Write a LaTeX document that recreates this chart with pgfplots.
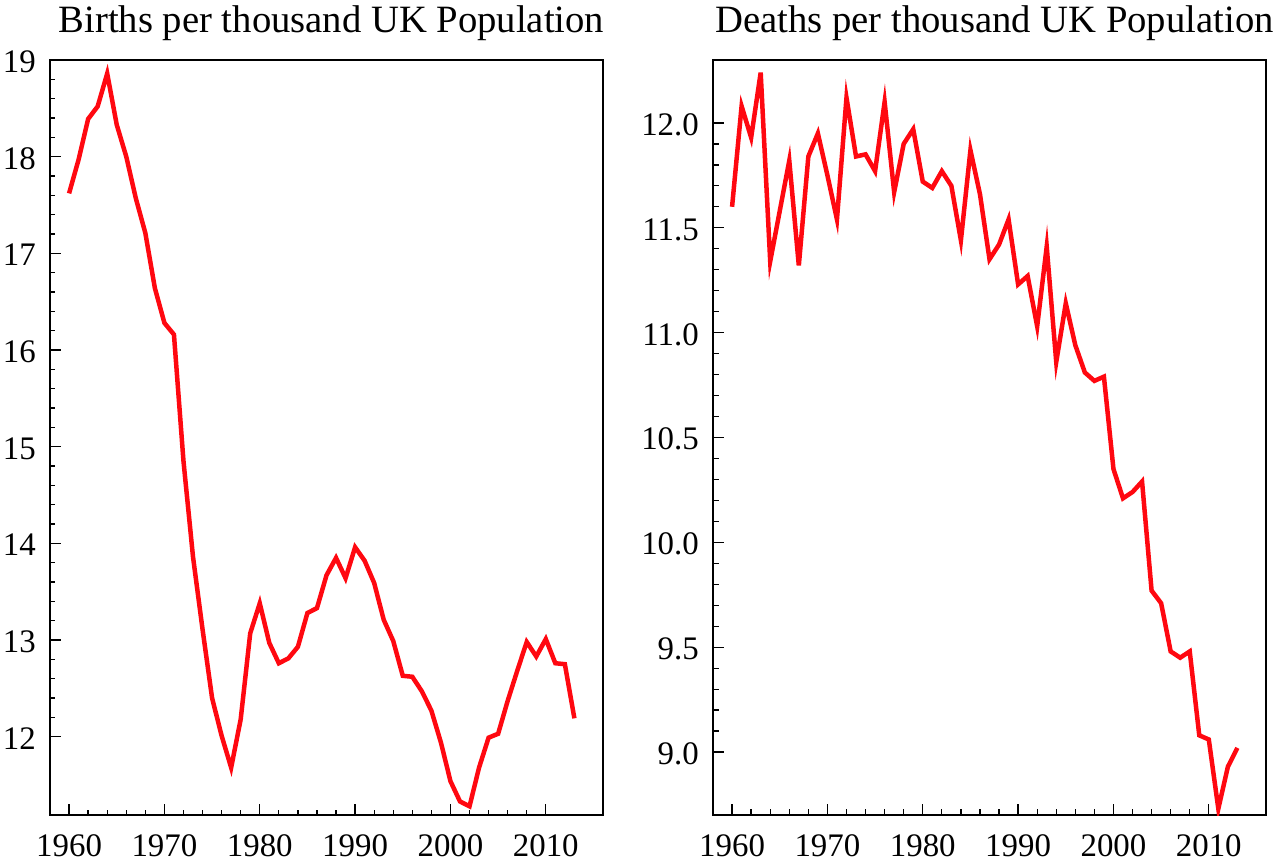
\documentclass[border=0pt]{standalone}
\usepackage{fontspec}
\setmainfont{Liberation Serif}
\usepackage{pgfplots}
\pgfplotsset{compat=1.18}
\definecolor{lred}{RGB}{255,8,16}
\pgfplotsset{mystyle/.style={
  scale only axis, width=553bp, height=755bp,
  anchor=south west,
  xmin=1958, xmax=2016,
  xtick={1960,1970,...,2010}, minor x tick num=4,
  tick align=inside, xtick pos=bottom, ytick pos=left,
  major tick length=11bp, minor tick length=5.5bp,
  axis line style={line width=1.8bp},
  every tick/.style={black, line width=1.3bp},
  tick label style={font=\fontsize{33}{39}\selectfont, inner sep=0pt},
  xticklabel style={anchor=base, yshift=-41bp},
  yticklabel style={anchor=base east, xshift=-14bp, yshift=-12.5bp},
  /pgf/number format/assume math mode=true,
  /pgf/number format/1000 sep={},
  title style={font=\fontsize{38.8}{46}\selectfont, at={(0.5,1)}, anchor=base, yshift=22bp, xshift=5bp, inner sep=0pt},
}}
\begin{document}
\begin{tikzpicture}
\useasboundingbox (0,0) rectangle (1279bp,867bp);
\begin{axis}[mystyle, at={(50bp,52bp)},
  ymin=11.19, ymax=19, ytick={12,13,...,19}, minor y tick num=4,
  title={Births per thousand UK Population}]
\addplot[lred, line width=4.5bp, no marks] coordinates {
(1960,17.62) (1961,17.97) (1962,18.39) (1963,18.52) (1964,18.86) (1965,18.33)
(1966,18.00) (1967,17.57) (1968,17.21) (1969,16.64) (1970,16.28) (1971,16.16)
(1972,14.85) (1973,13.86) (1974,13.11) (1975,12.40) (1976,12.01) (1977,11.68)
(1978,12.18) (1979,13.07) (1980,13.38) (1981,12.97) (1982,12.76) (1983,12.81)
(1984,12.93) (1985,13.28) (1986,13.33) (1987,13.67) (1988,13.85) (1989,13.64)
(1990,13.96) (1991,13.82) (1992,13.59) (1993,13.21) (1994,12.99) (1995,12.63)
(1996,12.62) (1997,12.47) (1998,12.27) (1999,11.94) (2000,11.54) (2001,11.33)
(2002,11.28) (2003,11.68) (2004,11.99) (2005,12.03) (2006,12.37) (2007,12.68)
(2008,12.98) (2009,12.83) (2010,13.01) (2011,12.76) (2012,12.75) (2013,12.19)
};
\end{axis}
\begin{axis}[mystyle, at={(713bp,52bp)},
  ymin=8.70, ymax=12.30, ytick={9,9.5,...,12}, minor y tick num=4,
  yticklabel style={/pgf/number format/.cd, fixed, fixed zerofill, precision=1},
  title={Deaths per thousand UK Population}]
\addplot[lred, line width=4.5bp, no marks] coordinates {
(1960,11.60) (1961,12.08) (1962,11.93) (1963,12.24) (1964,11.34) (1965,11.58)
(1966,11.82) (1967,11.32) (1968,11.84) (1969,11.95) (1970,11.75) (1971,11.54)
(1972,12.12) (1973,11.84) (1974,11.85) (1975,11.77) (1976,12.10) (1977,11.67)
(1978,11.90) (1979,11.97) (1980,11.72) (1981,11.69) (1982,11.77) (1983,11.70)
(1984,11.44) (1985,11.87) (1986,11.66) (1987,11.35) (1988,11.42) (1989,11.54)
(1990,11.23) (1991,11.27) (1992,11.03) (1993,11.41) (1994,10.86) (1995,11.14)
(1996,10.94) (1997,10.81) (1998,10.77) (1999,10.79) (2000,10.35) (2001,10.21)
(2002,10.24) (2003,10.29) (2004,9.77) (2005,9.71) (2006,9.48) (2007,9.45)
(2008,9.48) (2009,9.08) (2010,9.06) (2011,8.73) (2012,8.93) (2013,9.02)
};
\end{axis}
\end{tikzpicture}
\end{document}
